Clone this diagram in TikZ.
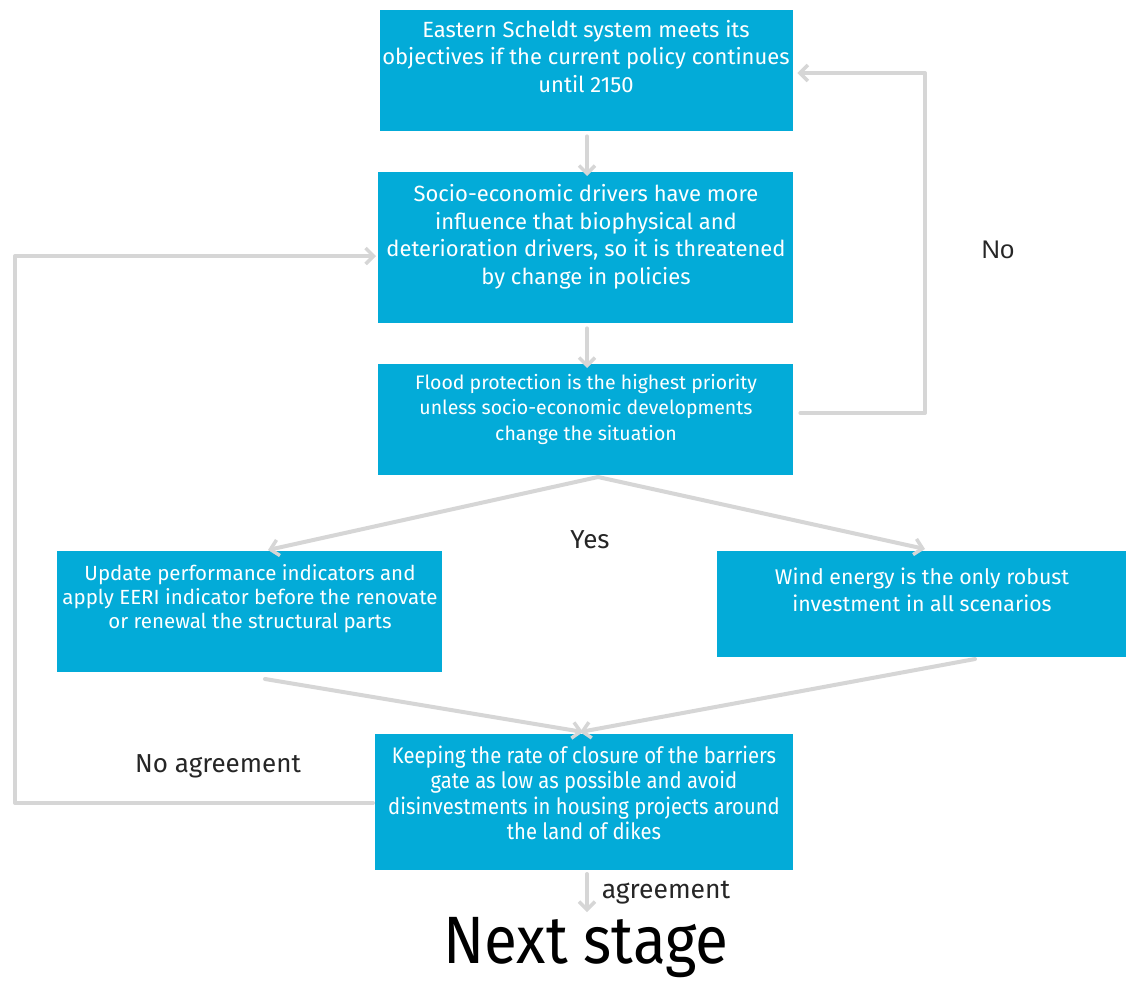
\documentclass[tikz,border=0pt]{standalone}
\usepackage{fontspec}
\setmainfont{Fira Sans}
\newfontfamily\condfont[FakeStretch=0.9]{Fira Sans}
\newfontfamily\arialfont{Liberation Sans}
\usetikzlibrary{arrows.meta}
\definecolor{boxblue}{RGB}{3,171,216}
\definecolor{flowgray}{RGB}{214,214,214}
\tikzset{
  box/.style={fill=boxblue, draw=none, inner sep=0pt, anchor=north west},
  boxtext/.style={text=white, align=center, anchor=north, inner sep=0pt},
  flow/.style={draw=flowgray, line width=4pt, line cap=round, line join=round,
    -{Straight Barb[length=8pt, width=16pt, line width=3.5pt]}},
  lbl/.style={text=black!85, inner sep=0pt}
}
\begin{document}
\begin{tikzpicture}[x=1pt, y=-1pt]
\useasboundingbox (0,0) rectangle (1126,983);
\fill[white] (0,0) rectangle (1126,983);

% boxes
\node[box, minimum width=413pt, minimum height=121pt] (b1) at (380,10) {};
\node[box, minimum width=415pt, minimum height=151pt] (b2) at (378,172) {};
\node[box, minimum width=415pt, minimum height=111pt] (b3) at (378,364) {};
\node[box, minimum width=385pt, minimum height=121pt] (b4) at (57,551) {};
\node[box, minimum width=409pt, minimum height=106pt] (b5) at (717,551) {};
\node[box, minimum width=418pt, minimum height=136pt] (b6) at (375,734) {};

% box texts
\node[boxtext, font=\fontsize{22}{27.5}\selectfont] (t1) at (586,20)
  {Eastern Scheldt system meets its\\objectives if the current policy continues\\until 2150};
\node[boxtext, font=\fontsize{22}{27.7}\selectfont] (t2) at (586,184)
  {Socio-economic drivers have more\\influence that biophysical and\\deterioration drivers, so it is threatened\\by change in policies};
\node[boxtext, font=\fontsize{19.5}{25.5}\selectfont] (t3) at (586,374)
  {Flood protection is the highest priority\\unless socio-economic developments\\change the situation};
\node[boxtext, font=\fontsize{20.5}{24.2}\selectfont] (t4) at (250,564)
  {Update performance indicators and\\apply EERI indicator before the renovate\\or renewal the structural parts};
\node[boxtext, font=\fontsize{21.3}{27}\selectfont] (t5) at (922,568)
  {Wind energy is the only robust\\investment in all scenarios};
\node[boxtext, font=\condfont\fontsize{22.5}{25.2}\selectfont] (t6) at (584,746)
  {Keeping the rate of closure of the barriers\\gate as low as possible and avoid\\disinvestments in housing projects around\\the land of dikes};

% labels
\node[lbl, font=\arialfont\fontsize{25.5}{30}\selectfont] (lno) at (998,250) {No};
\node[lbl, font=\fontsize{26}{30}\selectfont] (lyes) at (590,540) {Yes};
\node[lbl, font=\fontsize{26}{30}\selectfont] (lnoag) at (218,766) {No agreement};
\node[lbl, font=\fontsize{26.5}{30}\selectfont] (lag) at (666,893) {agreement};
\node[lbl, font=\condfont\fontsize{67}{72}\selectfont, text=black] (next) at (586,948) {Next stage};

% connector waypoints
\coordinate (c1a) at (925,413);
\coordinate (c1b) at (925,73);
\coordinate (c2a) at (15,803);
\coordinate (c2b) at (15,256);
\coordinate (split) at (598,477);
\coordinate (l4) at (268,550);
\coordinate (r5) at (925,549);
\coordinate (s4) at (265,679);
\coordinate (s5) at (975,659);
\coordinate (m6a) at (583,732);
\coordinate (m6b) at (580,732);
\coordinate (out6) at (587,874);
\coordinate (end6) at (587,912);

% straight connectors
\draw[flow] (b1.south -| 587,0) ++(0,5) -- ([yshift=-4pt]b2.north -| 587,0);
\draw[flow] (b2.south -| 587,0) ++(0,5) -- ([yshift=-4pt]b3.north -| 587,0);

% "No" loop back to the top box
\draw[flow] (b3.east |- c1a) ++(7,0) -- (c1a) -- (c1b) -- ([xshift=4pt]b1.east |- c1b);

% "No agreement" loop back to the second box
\draw[flow] (b6.west |- c2a) ++(-2,0) -- (c2a) -- (c2b) -- ([xshift=-2pt]b2.west |- c2b);

% split into the two options
\draw[flow] (split) -- (l4);
\draw[flow] (split) -- (r5);

% options merge into the final box
\draw[flow] (s4) -- (m6a);
\draw[flow] (s5) -- (m6b);

% agreement
\draw[flow] (out6) -- (end6);
\end{tikzpicture}
\end{document}
